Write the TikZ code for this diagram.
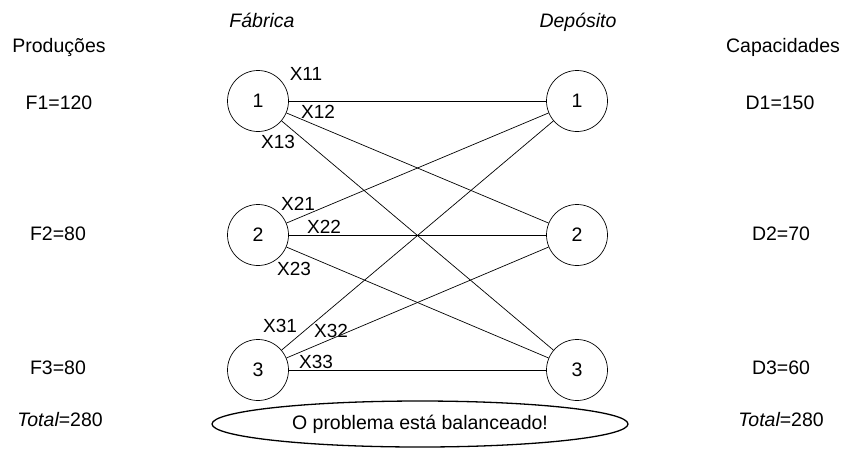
\documentclass[tikz,border=0pt]{standalone}
\usepackage{fontspec}
\setmainfont{Liberation Sans}
\usetikzlibrary{shapes.geometric}
\begin{document}
\begin{tikzpicture}[x=1pt,y=-1pt,
  every node/.style={font=\fontsize{19.5}{23}\selectfont},
  vertex/.style={draw,circle,minimum size=61pt,inner sep=0pt,line width=0.7pt},
  edge/.style={line width=0.7pt},
  lbl/.style={inner sep=0pt},
  xl/.style={inner sep=0pt,font=\fontsize{19}{22}\selectfont},
  hdr/.style={inner sep=0pt,anchor=base,font=\fontsize{19.5}{23}\selectfont\itshape}]
\useasboundingbox (0,0) rectangle (850,448);
% headers
\node[hdr] (fab) at (262,27) {Fábrica};
\node[hdr] (dep) at (578,27) {Depósito};
\node[lbl] (prod) at (59,47) {Produções};
\node[lbl] (cap) at (783,47) {Capacidades};
% side values
\node[lbl] (f1) at (59,103) {F1=120};
\node[lbl] (f2) at (58,234) {F2=80};
\node[lbl] (f3) at (58,368) {F3=80};
\node[lbl] (tl) at (60,420) {{\itshape Total}=280};
\node[lbl] (d1) at (780,103) {D1=150};
\node[lbl] (d2) at (781,234) {D2=70};
\node[lbl] (d3) at (781,368) {D3=60};
\node[lbl] (tr) at (781,420) {{\itshape Total}=280};
% vertices
\node[vertex] (L1) at (258,101) {1};
\node[vertex] (L2) at (258,235) {2};
\node[vertex] (L3) at (258,370) {3};
\node[vertex] (R1) at (577,101) {1};
\node[vertex] (R2) at (577,235) {2};
\node[vertex] (R3) at (577,370) {3};
% edges
\foreach \i in {1,2,3}{\foreach \j in {1,2,3}{\draw[edge] (L\i) -- (R\j);}}
% edge labels
\node[xl] (x11) at (306,74) {X11};
\node[xl] (x12) at (318,112) {X12};
\node[xl] (x13) at (278,142) {X13};
\node[xl] (x21) at (298,204) {X21};
\node[xl] (x22) at (324,227) {X22};
\node[xl] (x23) at (294,269) {X23};
\node[xl] (x31) at (280,326) {X31};
\node[xl] (x32) at (331,331) {X32};
\node[xl] (x33) at (316,362) {X33};
% balance ellipse
\node[draw,ellipse,line width=1.3pt,minimum width=416pt,minimum height=46pt,inner sep=0pt] (bal) at (420,424) {O problema está balanceado!};
\end{tikzpicture}
\end{document}
